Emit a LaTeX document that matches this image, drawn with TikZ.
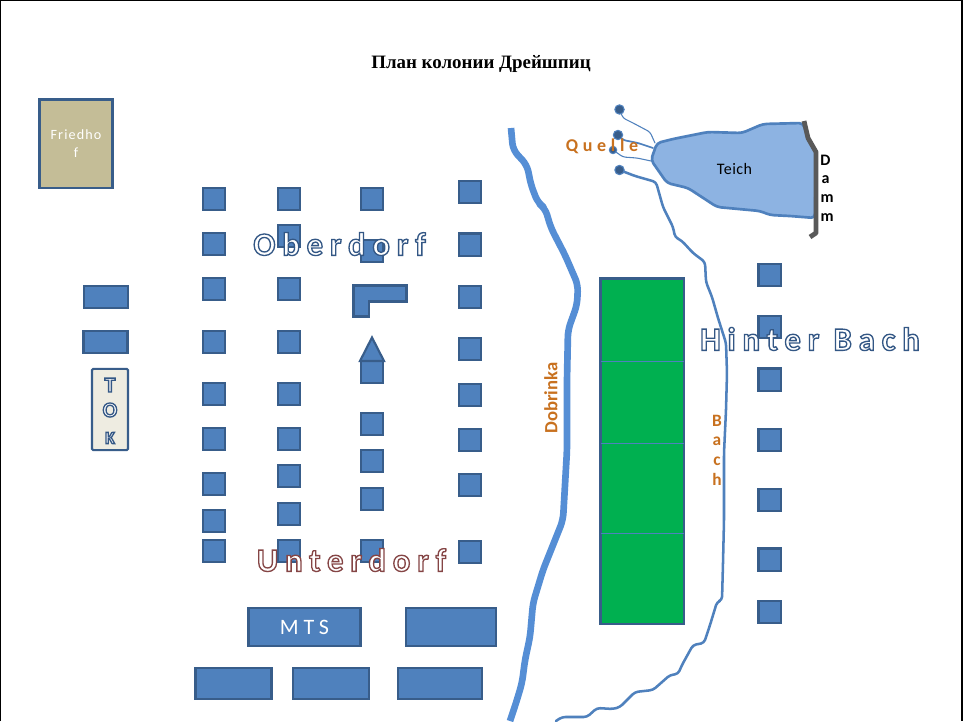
\documentclass[tikz,border=0pt]{standalone}
\usepackage{fontspec}
\setmainfont{Carlito}
\newfontfamily\titlefont{Liberation Serif}
\definecolor{hf}{HTML}{4F81BD}
\definecolor{hd}{HTML}{385D8A}
\definecolor{rv}{HTML}{558ED5}
\definecolor{pond}{HTML}{8DB3E2}
\definecolor{orng}{HTML}{C8711F}
% one real text, white inside, stroked outline (PDF text render mode 2)
\newcommand{\outl}[2]{{\color{white}\special{pdf:code 2 Tr 1.0 w #1 RG}#2\special{pdf:code 0 Tr}}}
\newcommand{\bluestroke}{0.2 0.34 0.52}
\newcommand{\rosestroke}{0.52 0.27 0.27}
\tikzset{
  x=0.75pt,y=-0.75pt,
  hut/.style={draw=hd,fill=hf,line width=1.6pt,minimum width=15.9pt,minimum height=15.9pt,inner sep=0pt,outer sep=0pt},
  shed/.style={draw=hd,fill=hf,line width=1.6pt},
  brook/.style={draw=hf,line join=round,line cap=round},
  lab/.style={inner sep=0pt,outer sep=0pt,align=center},
  bigout/.style={lab,font=\fontsize{24.5}{28}\selectfont\bfseries\addfontfeature{LetterSpace=21}},
  org/.style={lab,text=orng,font=\fontsize{13}{15}\selectfont\bfseries},
  spring/.style={circle,fill=hd,draw=hf,line width=0.8pt,inner sep=0pt,minimum size=7pt}
}
\begin{document}
\begin{tikzpicture}
\useasboundingbox (0,0) rectangle (963,721);
\fill[white] (0,0) rectangle (963,721);
\draw[black,line width=1.1pt] (0.7,721) -- (0.7,0.5) -- (962,0.5) -- (962,721);
\node[lab,font=\titlefont\fontsize{14.2}{16}\selectfont\bfseries] (title) at (481,64) {План колонии Дрейшпиц};

% cemetery and left buildings
\node[lab,draw=hd,line width=2pt,fill={rgb,255:red,196;green,189;blue,151},minimum width=55pt,minimum height=66.5pt,text=white,font=\fontsize{10.6}{13.5}\selectfont\addfontfeature{LetterSpace=8}] (friedhof) at (76,143.5) {Friedho\\f};
\node[shed,minimum width=33.5pt,minimum height=17pt,inner sep=0pt] (l1) at (106,297) {};
\node[shed,minimum width=33pt,minimum height=16pt,inner sep=0pt] (l2) at (105.5,342) {};
\node[lab,draw=hd,fill={rgb,255:red,238;green,236;blue,225},line width=1.6pt,rounded corners=1pt,minimum width=27pt,minimum height=61pt] (tokbox) at (110,409.5) {};
\node[lab,font=\fontsize{16}{17}\selectfont\bfseries] (tokT) at (110,385) {\outl{\bluestroke}{T}};
\node[lab,font=\fontsize{16}{17}\selectfont\bfseries] (tokO) at (110,410) {\outl{\bluestroke}{O}};
\node[lab,font=\fontsize{13}{14}\selectfont\bfseries] (tokK) at (110,438) {\outl{\bluestroke}{K}};

% village columns
\foreach \n/\y in {1/199,2/244,3/289,4/342,5/394,6/439,7/484,8/521,9/551}
  \node[hut] (a\n) at (214,\y) {};
\foreach \n/\y in {1/199,2/236,3/289,4/342,5/394,6/439,7/476,8/514,9/551}
  \node[hut] (b\n) at (289,\y) {};
\foreach \n/\y in {1/199,2/251,4/372,5/424,6/461,7/499,8/551}
  \node[hut] (c\n) at (372,\y) {};
\foreach \n/\y in {1/192,2/244.5,3/297,4/349,5/395,6/440,7/485,8/552}
  \node[hut,minimum width=16.6pt,minimum height=16.6pt] (d\n) at (470,\y) {};
\foreach \n/\y in {1/275,2/327,3/379.5,4/440,5/500,6/559.5,7/612}
  \node[hut,minimum width=16.6pt,minimum height=16.6pt] (e\n) at (769.5,\y) {};

\draw[shed,line join=miter] (353.5,285.5) -- (406.5,285.5) -- (406.5,301.5) -- (369,301.5) -- (369,316.5) -- (353.5,316.5) -- cycle;
\draw[shed,line join=miter] (372,337.5) -- (384,361) -- (360,361) -- cycle;

% lower buildings
\node[shed,minimum width=84pt,minimum height=28pt,inner sep=0pt,text=white,font=\fontsize{16.5}{18}\selectfont\addfontfeature{LetterSpace=22}] (mts) at (304.5,627) {MTS};
\node[shed,minimum width=68pt,minimum height=28pt,inner sep=0pt] (m2) at (451,627) {};
\node[shed,minimum width=57pt,minimum height=23pt,inner sep=0pt] (s1) at (233.5,683.5) {};
\node[shed,minimum width=57pt,minimum height=23pt,inner sep=0pt] (s2) at (331,683.5) {};
\node[shed,minimum width=63pt,minimum height=23pt,inner sep=0pt] (s3) at (440,683.5) {};

% field
\path[draw=hd,fill={rgb,255:red,0;green,176;blue,80},line width=1.6pt] (600.5,278.5) rectangle (684,624);
\foreach \y in {361,443,533} \draw[hf,line width=0.75pt] (600.5,\y) -- (684,\y);

% rivers
\draw[draw=rv,line width=5pt,line join=round,rounded corners=5pt] (511,128) -- (513,150) -- (527,165) -- (531,185) -- (538,203) -- (545,208) -- (551,228) -- (565,255) -- (578,285) -- (577,305) -- (568,330) -- (567,380) -- (567,450) -- (563,520) -- (553,545) -- (543,570) -- (533,603) -- (530,637) -- (525,660) -- (522,683) -- (516,703) -- (510,721);
\draw[brook,line width=1.9pt,rounded corners=2.5pt] (619.5,170) -- (635,176) -- (656,182) -- (663,207) -- (673,227) -- (675,237) -- (682,241) -- (693,253) -- (705,262) -- (706,282) -- (712,297) -- (718,318) -- (726,343) -- (727,373) -- (726,410) -- (724,453) -- (724,520) -- (723,563) -- (722,600) -- (717,602) -- (710,625) -- (704,643) -- (693,645) -- (682,665) -- (678,674) -- (670,675) -- (653,690) -- (635,692) -- (620,707) -- (613,709) -- (597,708) -- (587,717) -- (562,717) -- (556,721);

% pond
\draw[draw=hf,fill=pond,line width=2pt,line join=round,rounded corners=3pt] (657,143) -- (673,139) -- (708,132) -- (742,133) -- (763,124) -- (803,123) -- (808,138) -- (816,152) -- (815,218) -- (790,216) -- (770,215) -- (760,211) -- (717,207) -- (688,188) -- (667,183) -- (651,160) -- cycle;
\draw[draw=black!65,line width=3.6pt,line join=round] (804,121) -- (808,138) -- (816,152) -- (816,233) -- (810,237);
\draw[brook,line width=0.8pt,rounded corners=2pt] (619.5,109.5) -- (623,118) -- (633,123) -- (650,132) -- (655,143);
\draw[brook,line width=1.3pt,rounded corners=2pt] (618,135) -- (623,140) -- (638,143) -- (653,148);
\draw[brook,line width=0.8pt,rounded corners=2pt] (613,150) -- (623,157) -- (637,158) -- (651,161);
\node[spring] (q1) at (619.5,109.5) {};
\node[spring] (q2) at (618,135) {};
\node[spring,minimum size=5.5pt] (q3) at (613,150) {};
\node[spring] (q4) at (619.5,170) {};

% labels
\node[lab,font=\fontsize{12}{14}\selectfont\addfontfeature{LetterSpace=3}] (teich) at (734.5,169) {Teich};
\node[org,font=\fontsize{13.5}{15}\selectfont\bfseries\addfontfeature{LetterSpace=26}] (quelle) at (602,146.5) {Quelle};
\node[org,rotate=90,font=\fontsize{14}{16}\selectfont\bfseries] (dobrinka) at (551,398) {Dobrinka};
\node[org] (bb) at (717,421) {B};
\node[org] (ba) at (717,441) {a};
\node[org] (bc) at (717,461) {c};
\node[org] (bh) at (717,479) {h};
\node[lab,font=\fontsize{12}{14}\selectfont\bfseries] (d1) at (825.5,160) {D};
\node[lab,font=\fontsize{12}{14}\selectfont\bfseries] (d2) at (825.5,180) {a};
\node[lab,font=\fontsize{12}{14}\selectfont\bfseries] (d3) at (827,199) {m};
\node[lab,font=\fontsize{12}{14}\selectfont\bfseries] (d4) at (827,218) {m};
\node[bigout] (ober) at (339.5,244) {\outl{\bluestroke}{Oberdorf}};
\node[bigout] (unter) at (351.5,560) {\outl{\rosestroke}{Unterdorf}};
\node[bigout] (hinter) at (810,339) {\outl{\bluestroke}{Hinter Bach}};
\end{tikzpicture}
\end{document}
